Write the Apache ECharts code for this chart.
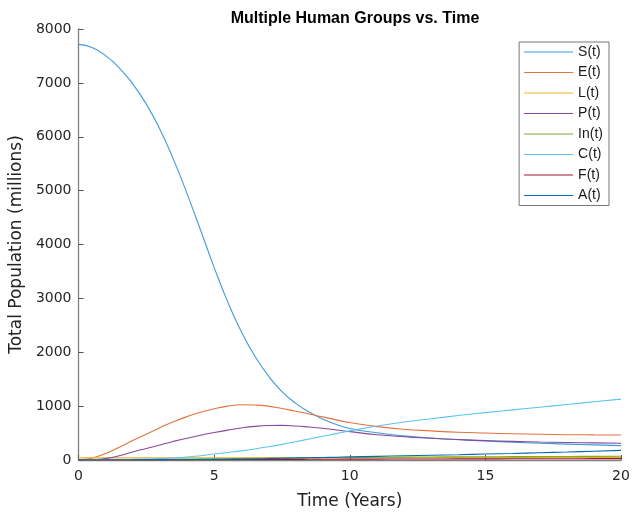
<!DOCTYPE html>
<html>
<head>
<meta charset="utf-8">
<script src="https://cdn.jsdelivr.net/npm/echarts@6/dist/echarts.min.js"></script>
<style>
html,body{margin:0;padding:0;background:#fff;}
#chart{width:634px;height:517px;}
</style>
</head>
<body>
<div id="chart"></div>
<script>
// Time points (years)
const time = [0,0.5,1,1.5,2,2.5,3,3.5,4,4.5,5,5.5,6,6.5,7,7.5,8,8.5,9,9.5,10,11,12,13,14,15,16,17,18,19,20];
const seriesNames = ['S(t)','E(t)','L(t)','P(t)','In(t)','C(t)','F(t)','A(t)'];
const S  = [7715,7655,7505,7280,6980,6605,6140,5580,4945,4265,3575,2935,2385,1930,1560,1270,1055,890,760,660,585,505,448,408,378,353,331,312,295,280,266];
const E  = [0,35,120,235,360,480,600,710,805,885,950,1000,1025,1020,1000,955,905,855,800,745,695,620,570,540,515,500,487,477,470,466,463];
const L  = [40,40,40,40,40,40,40,40,41,41,41,41,41,42,42,42,42,42,42,43,43,43,44,44,44,45,45,45,46,46,46];
const P  = [0,2,25,80,150,215,280,345,405,460,510,555,595,625,640,642,632,612,588,558,527,470,432,403,380,360,346,334,325,318,312];
const In = [0,1,2,4,6,8,11,14,17,20,23,26,29,32,35,37,39,41,43,45,47,50,53,56,58,60,62,64,66,68,70];
const C  = [0,2,5,8,12,18,26,38,55,80,110,140,170,205,245,290,340,390,440,490,540,630,705,765,825,880,930,980,1030,1080,1130];
const F  = [0,0,0,1,1,2,2,3,4,5,6,7,8,9,10,11,12,13,14,15,16,17,18,19,20,21,22,23,24,25,26];
const A  = [0,0,1,1,2,3,4,5,7,9,12,15,18,22,27,32,37,42,47,52,58,68,78,88,98,110,122,135,148,163,178];
const xTicks = [0,5,10,15,20];
const yTicks = [0,1000,2000,3000,4000,5000,6000,7000,8000];
const colors = ['#3f9bd8','#e2733f','#EDB120','#87489b','#77AC30','#5cc4ef','#A2142F','#0a68ad'];

const values = [S,E,L,P,In,C,F,A];
const FONT = '"DejaVu Sans", "Liberation Sans", Arial, sans-serif';
const chart = echarts.init(document.getElementById('chart'), null, {renderer:'canvas'});
chart.setOption({
  animation:false,
  backgroundColor:'#ffffff',
  color: colors,
  title:{
    text:'Multiple Human Groups vs. Time',
    left: 350, top: 6, textAlign:'center',
    textStyle:{fontFamily:'"Liberation Sans", Arial, sans-serif', fontSize:16, fontWeight:'bold', color:'#000'}
  },
  grid:{left:77, right:13, top:29, bottom:57, containLabel:false},
  legend:{
    orient:'vertical', right:25, top:42,
    icon:'rect', itemWidth:49, itemHeight:1.2, itemGap:6.5,
    padding:[3,6,3,5],
    borderColor:'#777', borderWidth:1, backgroundColor:'#fff',
    textStyle:{fontFamily:'"Liberation Sans", Arial, sans-serif', fontSize:14, lineHeight:14, color:'#1a1a1a'},
    data: seriesNames
  },
  xAxis:{
    type:'value', min:0, max:20, interval:5,
    name:'Time (Years)', nameLocation:'middle', nameGap:33,
    nameTextStyle:{fontFamily:FONT, fontSize:17, color:'#222'},
    axisLine:{show:true, lineStyle:{color:'#808080', width:1.3}},
    axisTick:{show:true, inside:true, length:5, lineStyle:{color:'#555'}},
    axisLabel:{fontFamily:FONT, fontSize:14, color:'#262626', margin:9,
      formatter:v=> xTicks.includes(v)? String(v):''},
    splitLine:{show:false}
  },
  yAxis:{
    type:'value', min:0, max:8000, interval:1000,
    name:'Total Population (millions)', nameLocation:'middle', nameGap:50, nameRotate:90,
    nameTextStyle:{fontFamily:FONT, fontSize:17, color:'#222'},
    axisLine:{show:true, lineStyle:{color:'#808080', width:1.3}},
    axisTick:{show:true, inside:true, length:5, lineStyle:{color:'#555'}},
    axisLabel:{fontFamily:FONT, fontSize:14, color:'#262626', margin:7,
      formatter:v=> yTicks.includes(v)? String(v):''},
    splitLine:{show:false}
  },
  series: seriesNames.map((n,i)=>({
    name:n, type:'line', symbol:'none', smooth:0.5,
    lineStyle:{width:1.1, color:colors[i]},
    itemStyle:{color:colors[i]},
    data: time.map((t,k)=>[t, values[i][k]])
  }))
});
</script>
</body>
</html>
